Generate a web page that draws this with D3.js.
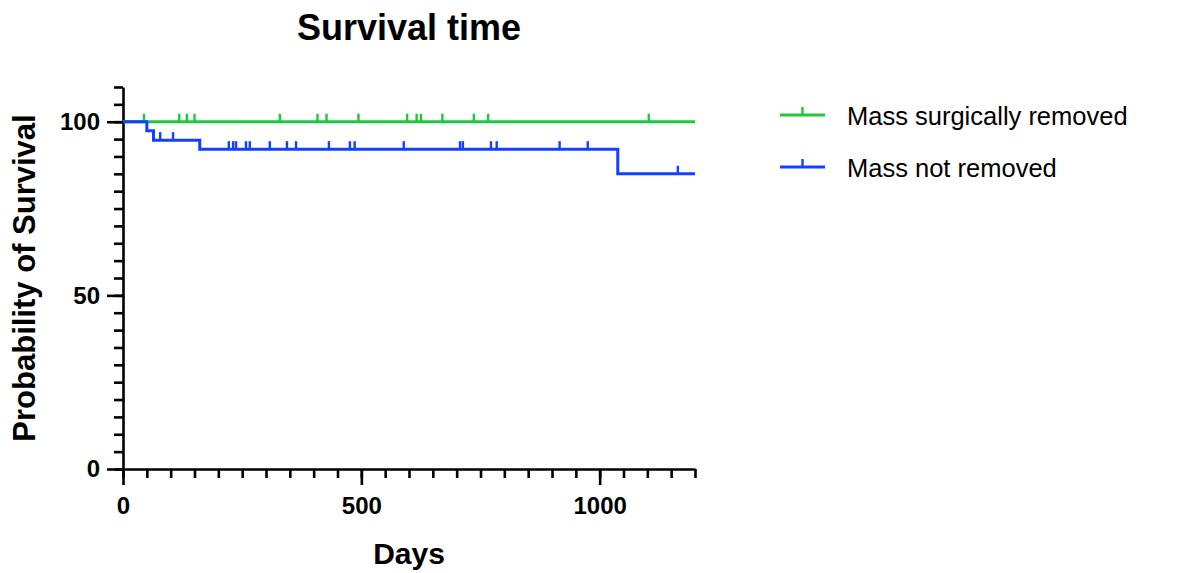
<!DOCTYPE html>
<html>
<head>
<meta charset="utf-8">
<script src="https://cdn.jsdelivr.net/npm/d3@7"></script>
<style>
  body { margin: 0; background: #fff; }
  svg { font-family: "Liberation Sans", Arial, sans-serif; }
</style>
</head>
<body>
<div id="chart"></div>
<script>
// Kaplan-Meier steps (days, % surviving)
var removedTimes = [0, 1200];
var removedSurv = [100, 100];
var removedCensor = [44, 118, 134, 150, 329, 408, 427, 494, 596, 616, 625, 670, 736, 766, 1103];

var keptTimes = [0, 50, 64, 161, 1038, 1200];
var keptSurv = [100, 97.4, 94.7, 92.1, 85.0, 85.0];
var keptCensor = [78, 105, 222, 231, 237, 258, 266, 308, 344, 363, 432, 476, 486, 589, 707, 713, 772, 784, 916, 975, 1164];

var seriesNames = ["Mass surgically removed", "Mass not removed"];
var colors = ["#1fc83a", "#1240ff"];

var xMajor = [0, 500, 1000];
var yMajor = [0, 50, 100];

var W = 1192, H = 573;
var m = { left: 123, top: 87, right: W - 695, bottom: H - 469 };

var svg = d3.select("#chart").append("svg")
  .attr("width", W).attr("height", H);

var x = d3.scaleLinear().domain([0, 1200]).range([m.left, W - m.right]);
var y = d3.scaleLinear().domain([0, 110]).range([H - m.bottom, m.top]);

// minor ticks first
svg.append("g")
  .attr("transform", "translate(0," + y(0) + ")")
  .call(d3.axisBottom(x).tickValues(d3.range(0, 1201, 50)).tickSize(9).tickFormat(""))
  .call(function (g) { g.select(".domain").remove(); });
svg.append("g")
  .attr("transform", "translate(" + x(0) + ",0)")
  .call(d3.axisLeft(y).tickValues(d3.range(0, 111, 5)).tickSize(9).tickFormat(""))
  .call(function (g) { g.select(".domain").remove(); });

var xAxis = svg.append("g")
  .attr("transform", "translate(0," + y(0) + ")")
  .call(d3.axisBottom(x).tickValues(xMajor).tickFormat(d3.format("d"))
    .tickSize(16).tickSizeOuter(0).tickPadding(12));
var yAxis = svg.append("g")
  .attr("transform", "translate(" + x(0) + ",0)")
  .call(d3.axisLeft(y).tickValues(yMajor).tickFormat(d3.format("d"))
    .tickSize(16).tickSizeOuter(0).tickPadding(7));

svg.selectAll(".tick line, .domain")
  .attr("stroke", "#000").attr("stroke-width", 2.6);
svg.selectAll(".tick text")
  .attr("fill", "#000")
  .style("font-size", "24px").style("font-weight", "bold");

// step curves
var line = d3.line()
  .x(function (d) { return x(d[0]); })
  .y(function (d) { return y(d[1]); })
  .curve(d3.curveStepAfter);

function survAt(times, surv, t) {
  var s = surv[0];
  for (var i = 0; i < times.length; i++) if (times[i] <= t) s = surv[i];
  return s;
}

var series = [
  { times: removedTimes, surv: removedSurv, censor: removedCensor },
  { times: keptTimes, surv: keptSurv, censor: keptCensor }
];

series.forEach(function (s, k) {
  svg.append("path")
    .datum(d3.zip(s.times, s.surv))
    .attr("d", line)
    .attr("fill", "none")
    .attr("stroke", colors[k])
    .attr("stroke-width", 3);

  svg.selectAll(".censor" + k)
    .data(s.censor)
    .enter().append("line")
    .attr("x1", function (d) { return x(d); })
    .attr("x2", function (d) { return x(d); })
    .attr("y1", function (d) { return y(survAt(s.times, s.surv, d)); })
    .attr("y2", function (d) { return y(survAt(s.times, s.surv, d)) - 8; })
    .attr("stroke", colors[k])
    .attr("stroke-width", 2.4);
});

// titles
svg.append("text")
  .attr("x", (x(0) + x(1200)) / 2).attr("y", 40)
  .attr("text-anchor", "middle")
  .style("font-size", "36px").style("font-weight", "bold")
  .text("Survival time");

svg.append("text")
  .attr("x", (x(0) + x(1200)) / 2).attr("y", 564)
  .attr("text-anchor", "middle")
  .style("font-size", "30px").style("font-weight", "bold")
  .text("Days");

svg.append("text")
  .attr("transform", "translate(35," + ((y(0) + y(110)) / 2) + ") rotate(-90)")
  .attr("text-anchor", "middle")
  .style("font-size", "31px").style("font-weight", "bold")
  .text("Probability of Survival");

// legend
var leg = svg.append("g").selectAll("g")
  .data(seriesNames).enter().append("g")
  .attr("transform", function (d, i) { return "translate(780," + (115 + i * 52) + ")"; });
leg.append("line")
  .attr("x1", 0).attr("x2", 45)
  .attr("stroke", function (d, i) { return colors[i]; })
  .attr("stroke-width", 3);
leg.append("line")
  .attr("x1", 22.5).attr("x2", 22.5).attr("y1", 0).attr("y2", -8)
  .attr("stroke", function (d, i) { return colors[i]; })
  .attr("stroke-width", 2.4);
leg.append("text")
  .attr("x", 67).attr("y", 10)
  .style("font-size", "25.5px")
  .text(function (d) { return d; });
</script>
</body>
</html>
